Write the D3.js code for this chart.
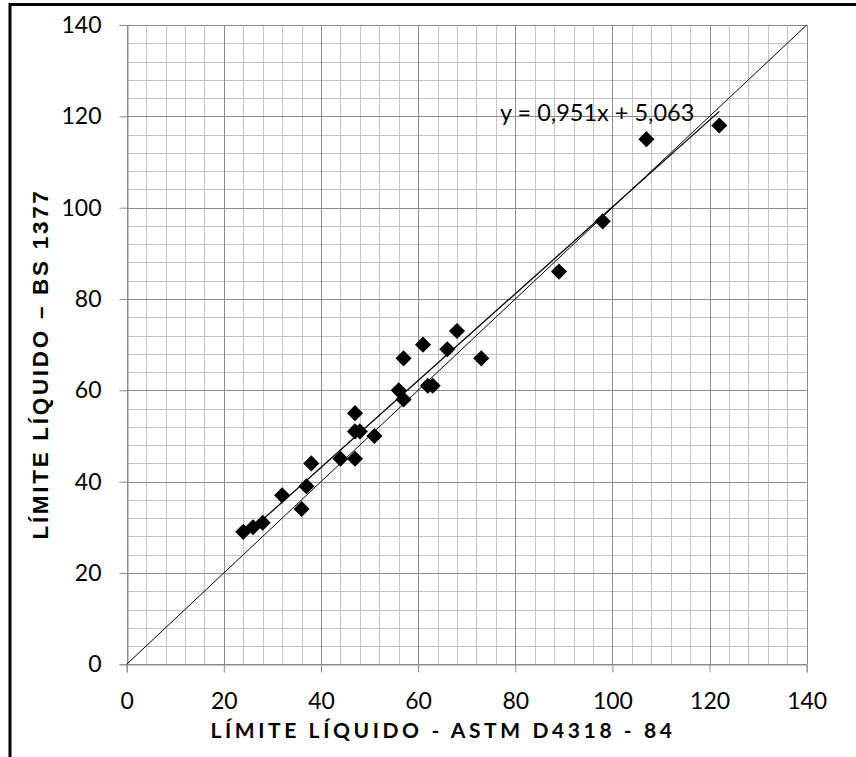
<!DOCTYPE html>
<html>
<head>
<meta charset="utf-8">
<script src="https://cdn.jsdelivr.net/npm/d3@7"></script>
<style>
  html, body { margin: 0; padding: 0; background: #fff; }
  svg { display: block; }
</style>
</head>
<body>
<script>
// astm (x) vs bs (y)
const astm = [24, 26, 28, 32, 36, 37, 38, 44, 47, 47, 47, 48, 51, 56, 57, 57, 61, 62, 63, 66, 68, 73, 89, 98, 107, 122];
const bs   = [29, 30, 31, 37, 34, 39, 44, 45, 45, 55, 51, 51, 50, 60, 58, 67, 70, 61, 61, 69, 73, 67, 86, 97, 115, 118];
const tickValues = [0, 20, 40, 60, 80, 100, 120, 140];
const slope = 0.951, intercept = 5.063;
const eqLabel = "y = 0,951x + 5,063";
const xTitle = "LÍMITE LÍQUIDO - ASTM D4318 - 84";
const yTitle = "LÍMITE LÍQUIDO – BS 1377";

const width = 856, height = 757;
const margin = {top: 25, right: 49.3, bottom: 92.7, left: 126.7};
const font = "Lato, 'Open Sans', sans-serif";

const svg = d3.select("body").append("svg")
  .attr("width", width).attr("height", height);

// outer frame (runs off the right / bottom edge like the original)
svg.append("rect")
  .attr("x", 10).attr("y", 4.5)
  .attr("width", width + 20).attr("height", height + 20)
  .attr("fill", "none").attr("stroke", "#000").attr("stroke-width", 3);

const x = d3.scaleLinear().domain([0, 140]).range([margin.left, width - margin.right]);
const y = d3.scaleLinear().domain([0, 140]).range([height - margin.bottom, margin.top]);

const minor = d3.range(0, 141, 4);

// minor grid
const grid = svg.append("g");
grid.selectAll("line.vx").data(minor).join("line")
  .attr("x1", d => Math.round(x(d)) + 0.5).attr("x2", d => Math.round(x(d)) + 0.5)
  .attr("y1", y(0)).attr("y2", y(140))
  .attr("stroke", "#c4c4c4").attr("stroke-width", 1);
grid.selectAll("line.hy").data(minor).join("line")
  .attr("y1", d => Math.round(y(d)) + 0.5).attr("y2", d => Math.round(y(d)) + 0.5)
  .attr("x1", x(0)).attr("x2", x(140))
  .attr("stroke", "#c4c4c4").attr("stroke-width", 1);

// major grid
grid.selectAll("line.mx").data(tickValues).join("line")
  .attr("x1", d => Math.round(x(d)) + 0.5).attr("x2", d => Math.round(x(d)) + 0.5)
  .attr("y1", y(0)).attr("y2", y(140))
  .attr("stroke", "#8c8c8c").attr("stroke-width", 1);
grid.selectAll("line.my").data(tickValues).join("line")
  .attr("y1", d => Math.round(y(d)) + 0.5).attr("y2", d => Math.round(y(d)) + 0.5)
  .attr("x1", x(0)).attr("x2", x(140))
  .attr("stroke", "#8c8c8c").attr("stroke-width", 1);

// axes
const xAxis = svg.append("g")
  .attr("transform", `translate(0,${Math.round(y(0)) + 0.5})`)
  .call(d3.axisBottom(x).tickValues(tickValues).tickSize(8));
const yAxis = svg.append("g")
  .attr("transform", `translate(${Math.round(x(0)) + 0.5},0)`)
  .call(d3.axisLeft(y).tickValues(tickValues).tickSize(8).tickPadding(18));
[xAxis, yAxis].forEach(g => {
  g.select(".domain").attr("stroke", "#8c8c8c");
  g.selectAll(".tick line").attr("stroke", "#8c8c8c");
  g.selectAll(".tick text")
    .attr("font-family", font)
    .attr("font-size", 23).attr("fill", "#000");
});
xAxis.selectAll(".tick text").attr("y", 44).attr("dy", 0);

// 1:1 line
svg.append("line")
  .attr("x1", x(0)).attr("y1", y(0)).attr("x2", x(140)).attr("y2", y(140))
  .attr("stroke", "#000").attr("stroke-width", 1);

// trend line over the data range
const xr = d3.extent(astm);
svg.append("line")
  .attr("x1", x(xr[0])).attr("y1", y(slope * xr[0] + intercept))
  .attr("x2", x(xr[1])).attr("y2", y(slope * xr[1] + intercept))
  .attr("stroke", "#000").attr("stroke-width", 1.3);

// points
const pts = astm.map((v, i) => ({x: v, y: bs[i]}));
svg.append("g").selectAll("path").data(pts).join("path")
  .attr("d", d3.symbol().type(d3.symbolSquare).size(130))
  .attr("transform", d => `translate(${x(d.x)},${y(d.y)}) rotate(45)`)
  .attr("fill", "#000");

// equation
svg.append("text")
  .attr("x", 500).attr("y", 121)
  .attr("font-family", font)
  .attr("font-size", 23.5)
  .text(eqLabel);

// axis titles
svg.append("text")
  .attr("x", 443).attr("y", 738)
  .attr("text-anchor", "middle")
  .attr("font-family", font)
  .attr("font-weight", "bold").attr("font-size", 21)
  .attr("letter-spacing", 3.6)
  .text(xTitle);

svg.append("text")
  .attr("transform", `translate(48,364) rotate(-90)`)
  .attr("text-anchor", "middle")
  .attr("font-family", "'Liberation Sans', Arial, sans-serif")
  .attr("font-weight", "bold").attr("font-size", 22.5)
  .attr("letter-spacing", 2.7)
  .text(yTitle);
</script>
</body>
</html>
